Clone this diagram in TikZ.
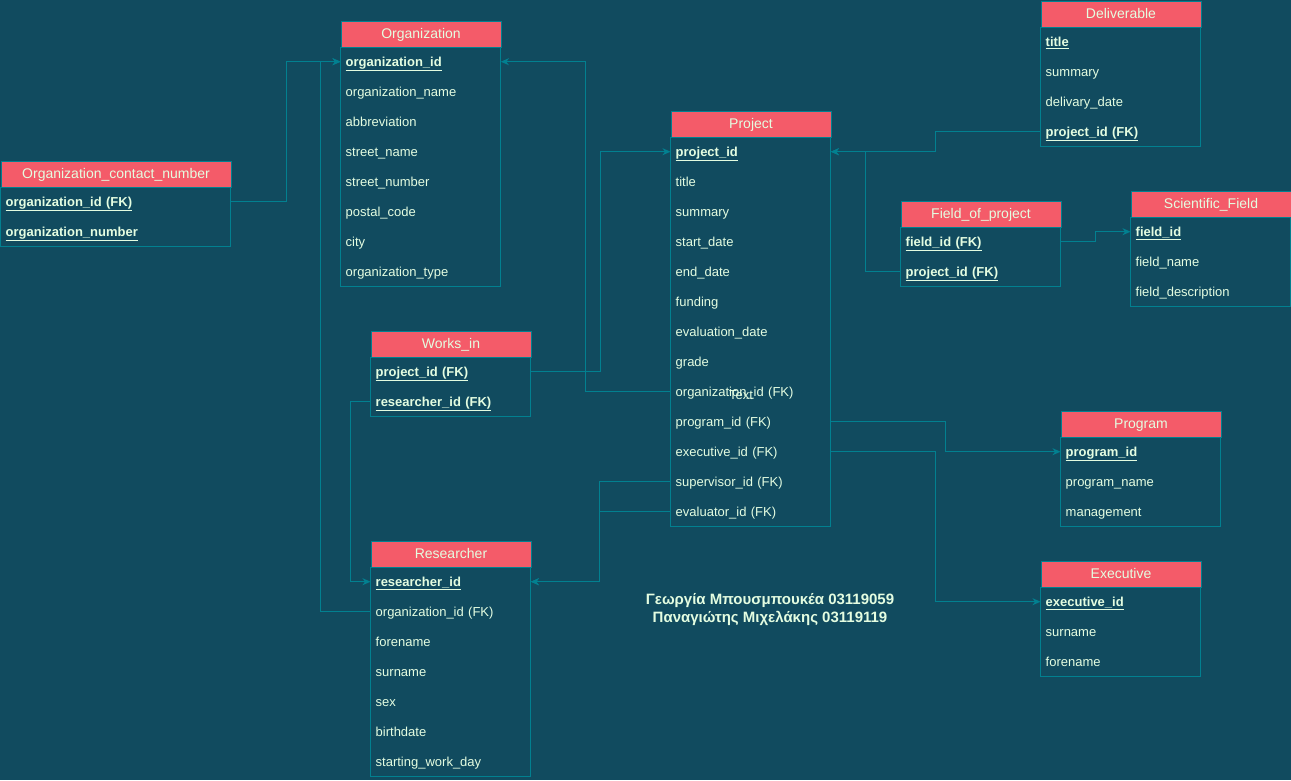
\documentclass[tikz,border=0pt]{standalone}
\usepackage{fontspec}
\setmainfont{Liberation Sans}
\usetikzlibrary{arrows.meta}

\definecolor{bgc}{HTML}{114B5F}
\definecolor{headc}{HTML}{F45B69}
\definecolor{linec}{HTML}{028090}
\definecolor{txtc}{HTML}{E4FDE1}

\tikzset{
  hdr/.style={draw=linec, fill=headc, text=txtc, line width=1pt, anchor=north west,
    minimum height=26pt, inner sep=0pt, text height=12.7pt, text depth=3pt,
    font=\fontsize{14}{16}\selectfont},
  fld/.style={anchor=north west, text=txtc, minimum height=30pt, inner xsep=5pt,
    inner ysep=0pt, align=left, text height=11.8pt, text depth=2.8pt,
    font=\fontsize{13}{15}\selectfont},
  tbl/.style={draw=linec, line width=1pt},
  conn/.style={draw=linec, line width=1pt, -{Stealth[length=8pt,width=7pt,inset=2.5pt]}},
}

% bold underlined key column
\newcommand\pk[1]{\underline{\textbf{#1}}}

% \ertab{name}{x}{y}{width}{rows}{title}{row list}
\newcommand\ertab[7]{%
  \node[hdr, minimum width=#4] (#1) at (#2,#3) {#6};
  \foreach \t [count=\i] in {#7} {
    \node[fld, minimum width=#4, text width=#4-10] (#1-\i) at ({#2},{#3+26+(\i-1)*30}) {\t};
  }
  \draw[tbl] (#1.south west) rectangle (#1-#5.south east);
}

\begin{document}
\begin{tikzpicture}[x=1pt,y=-1pt]
\fill[bgc] (0,0) rectangle (1291,780);
\useasboundingbox (0,0) rectangle (1291,780);

\ertab{org}{340.5}{20.5}{160}{8}{Organization}{\pk{organization\_id},organization\_name,abbreviation,street\_name,street\_number,postal\_code,city,organization\_type}
\ertab{ocn}{0.5}{160.5}{230}{2}{Organization\_contact\_number}{\pk{organization\_id (FK)},\pk{organization\_number}}
\ertab{proj}{670.5}{110.5}{160}{13}{Project}{\pk{project\_id},title,summary,start\_date,end\_date,funding,evaluation\_date,grade,organization\_id (FK),program\_id (FK),executive\_id (FK),supervisor\_id (FK),evaluator\_id (FK)}
\ertab{deliv}{1040.5}{0.5}{160}{4}{Deliverable}{\pk{title},summary,delivary\_date,\pk{project\_id (FK)}}
\ertab{fop}{900.5}{200.5}{160}{2}{Field\_of\_project}{\pk{field\_id (FK)},\pk{project\_id (FK)}}
\ertab{sf}{1130.5}{190.5}{160}{3}{Scientific\_Field}{\pk{field\_id},field\_name,field\_description}
\ertab{works}{370.5}{330.5}{160}{2}{Works\_in}{\pk{project\_id (FK)},\pk{researcher\_id (FK)}}
\ertab{prog}{1060.5}{410.5}{160}{3}{Program}{\pk{program\_id},program\_name,management}
\ertab{res}{370.5}{540.5}{160}{7}{Researcher}{\pk{researcher\_id},organization\_id (FK),forename,surname,sex,birthdate,starting\_work\_day}
\ertab{exec}{1040.5}{560.5}{160}{3}{Executive}{\pk{executive\_id},surname,forename}

% relationships
\draw[conn] (ocn-1.east) -- ++(56,0) |- (org-1.west);
\draw[conn] (res-2.west) -- ++(-50,0) |- (org-1.west);
\draw[conn] (proj-9.west) -- ++(-85,0) |- (org-1.east);
\draw[conn] (works-1.east) -- ++(70,0) |- (proj-1.west);
\draw[conn] (works-2.west) -- ++(-20,0) |- (res-1.west);
\draw[conn] (proj-12.west) -- ++(-71,0) |- (res-1.east);
\draw[conn] (proj-13.west) -- ++(-71,0) |- (res-1.east);
\draw[conn] (deliv-4.west) -- ++(-105,0) |- (proj-1.east);
\draw[conn] (fop-2.west) -- ++(-35,0) |- (proj-1.east);
\draw[conn] (fop-1.east) -- ++(35,0) |- (sf-1.west);
\draw[conn] (proj-10.east) -- ++(115,0) |- (prog-1.west);
\draw[conn] (proj-11.east) -- ++(105,0) |- (exec-1.west);

\node[text=txtc, inner sep=0pt, text height=11.8pt, text depth=2.8pt,
  font=\fontsize{13}{15}\selectfont] (lbl) at (741,395) {Text};

\node[text=txtc, inner sep=0pt, align=center, font=\bfseries\fontsize{15}{18}\selectfont] (authors) at (770,610)
  {Γεωργία Μπουσμπουκέα 03119059\\Παναγιώτης Μιχελάκης 03119119};
\end{tikzpicture}
\end{document}
